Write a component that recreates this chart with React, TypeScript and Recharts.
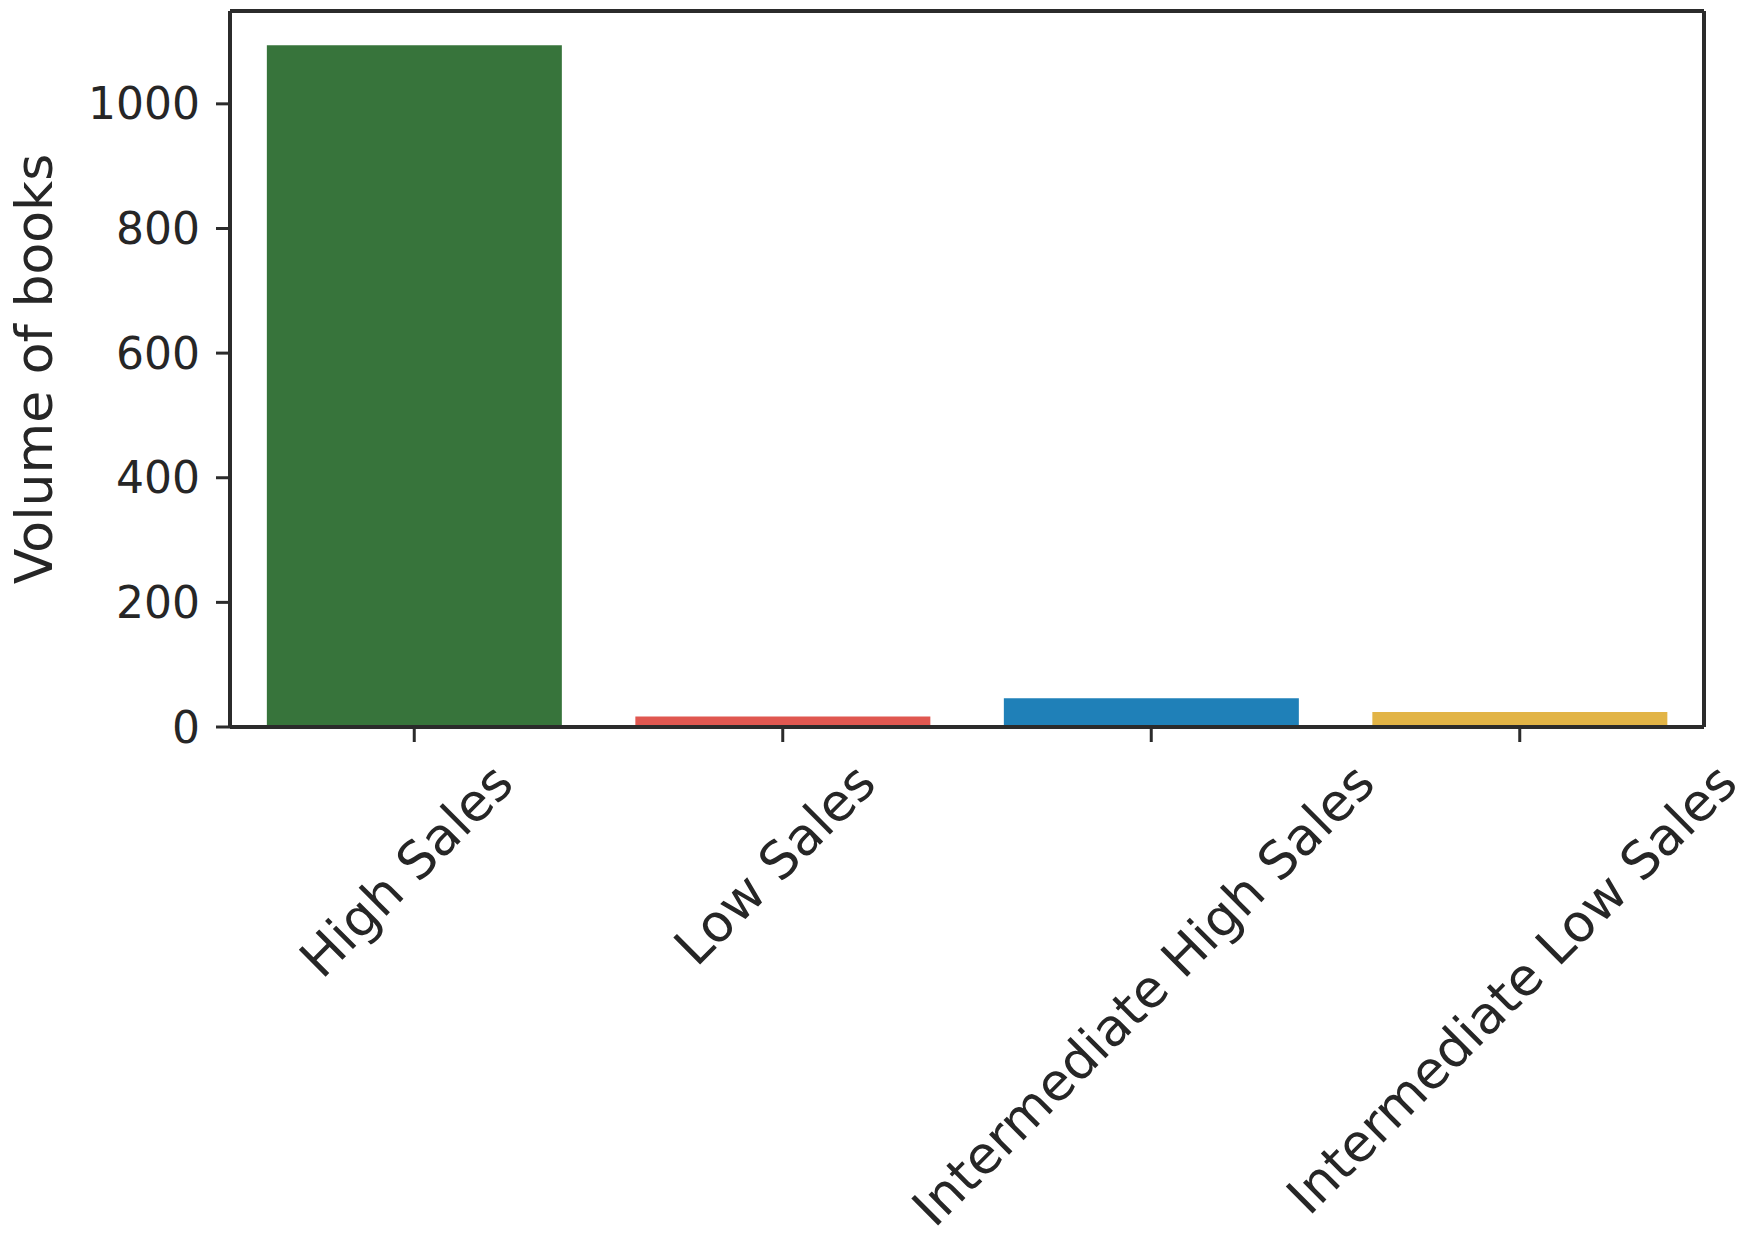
import { Bar, BarChart, Cell, XAxis, YAxis } from "recharts";

const categories = ["High Sales", "Low Sales", "Intermediate High Sales", "Intermediate Low Sales"];
const volumes = [1094, 17, 46, 24];
const barColors = ["#37743b", "#e05750", "#1f80b8", "#e2b446"];
const yTicks = [0, 200, 400, 600, 800, 1000];
const yMax = 1149;

const data = categories.map((name, i) => ({ name, volume: volumes[i] }));

const FONT = "'DejaVu Sans', sans-serif";
const INK = "#262626";
const SPINE = "#2b2b2b";
const X_LABEL_SIZE = 52;

let ctx: CanvasRenderingContext2D | null = null;
function textWidth(s: string, size: number) {
  if (!ctx) ctx = document.createElement("canvas").getContext("2d");
  if (!ctx) return s.length * size * 0.6;
  ctx.font = `${size}px 'DejaVu Sans'`;
  return ctx.measureText(s).width;
}

// matplotlib-style 45° labels: the rotated box is centred under the tick
function SlantTick({ x, y, payload }: any) {
  const w = textWidth(payload.value, X_LABEL_SIZE);
  const half = ((w + X_LABEL_SIZE) * Math.SQRT1_2) / 2;
  const cx = x - 8;
  const cy = y + 13 + half;
  return (
    <text
      x={cx}
      y={cy}
      transform={`rotate(-45 ${cx} ${cy})`}
      textAnchor="middle"
      dominantBaseline="central"
      fontFamily={FONT}
      fontSize={X_LABEL_SIZE}
      fill={INK}
    >
      {payload.value}
    </text>
  );
}

function YTitle({ viewBox }: any) {
  const cy = viewBox.y + viewBox.height / 2;
  return (
    <text
      x={34}
      y={cy}
      transform={`rotate(-90 34 ${cy})`}
      textAnchor="middle"
      dominantBaseline="central"
      fontFamily={FONT}
      fontSize={52}
      fill={INK}
    >
      Volume of books
    </text>
  );
}

export default function App() {
  const line = { stroke: SPINE, strokeWidth: 4 };
  return (
    <div style={{ position: "absolute", left: 0, top: 0, width: 1750, height: 1250, background: "#fff" }}>
      <BarChart
        width={1750}
        height={1250}
        data={data}
        margin={{ top: 10, right: 45, bottom: 0, left: 0 }}
        barCategoryGap="10%"
      >
        <XAxis
          dataKey="name"
          height={523}
          interval={0}
          tickSize={15}
          tickMargin={0}
          axisLine={line}
          tickLine={{ stroke: SPINE, strokeWidth: 3 }}
          tick={<SlantTick />}
        />
        <XAxis xAxisId="top" dataKey="name" orientation="top" height={1} tick={false} tickLine={false} axisLine={line} />
        <YAxis
          width={230}
          domain={[0, yMax]}
          ticks={yTicks}
          tickSize={14}
          tickMargin={16}
          axisLine={line}
          tickLine={{ stroke: SPINE, strokeWidth: 3 }}
          tick={{ fill: INK, fontSize: 44, fontFamily: FONT }}
          label={<YTitle />}
        />
        <YAxis
          yAxisId="right"
          orientation="right"
          width={1}
          domain={[0, yMax]}
          tick={false}
          tickLine={false}
          axisLine={line}
        />
        <Bar dataKey="volume" isAnimationActive={false}>
          {data.map((d, i) => (
            <Cell key={d.name} fill={barColors[i]} />
          ))}
        </Bar>
      </BarChart>
    </div>
  );
}
